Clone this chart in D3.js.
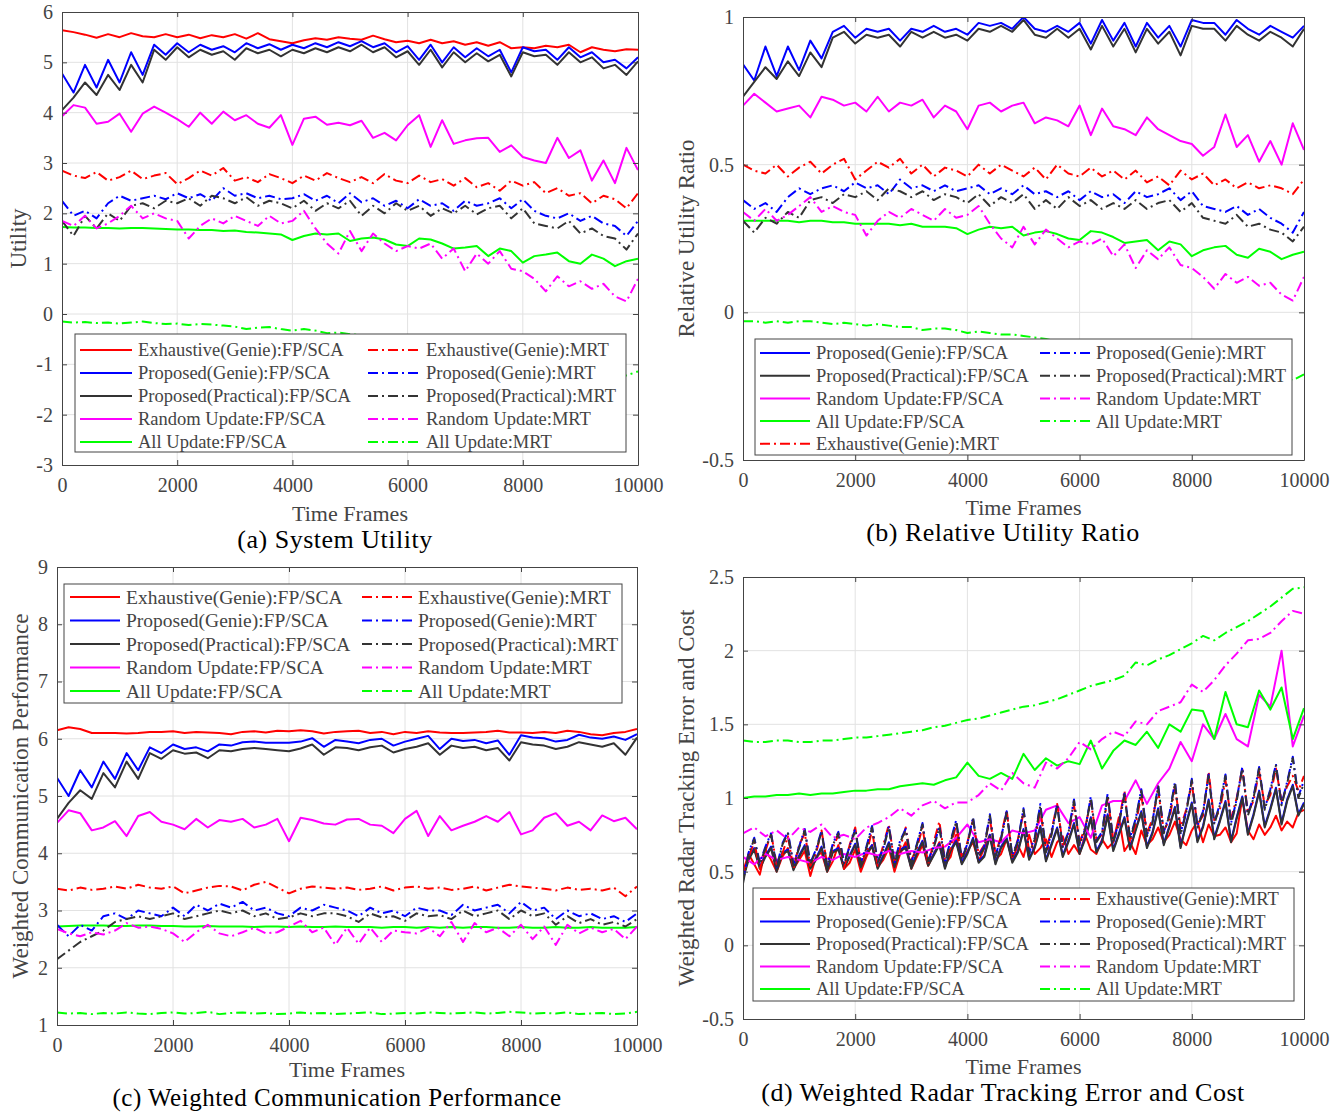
<!DOCTYPE html>
<html>
<head>
<meta charset="utf-8">
<script src="https://cdn.jsdelivr.net/npm/d3@7"></script>
<style>
  body { margin: 0; background: #fff; }
  svg text { font-family: "Liberation Serif", "Times New Roman", serif; }
</style>
</head>
<body>
<svg id="chart" width="1343" height="1112"></svg>
<script>
// ---- shared ticks / names ----
var xTicks = [0, 2000, 4000, 6000, 8000, 10000];
var yTicksA = [-3, -2, -1, 0, 1, 2, 3, 4, 5, 6];
var yTicksB = [-0.5, 0, 0.5, 1];
var yTicksC = [1, 2, 3, 4, 5, 6, 7, 8, 9];
var yTicksD = [-0.5, 0, 0.5, 1, 1.5, 2, 2.5];

var names = {
  exh: "Exhaustive(Genie)", gen: "Proposed(Genie)", pra: "Proposed(Practical)",
  rnd: "Random Update", all: "All Update"
};
var colors = { exh: "#ff0000", gen: "#0000ff", pra: "#333333", rnd: "#ff00ff", all: "#00ff00" };

// ---- (a) System Utility, one value every 200 frames ----
var utilExhFp = [5.64,5.6,5.55,5.49,5.56,5.5,5.58,5.52,5.5,5.56,5.5,5.55,5.48,5.54,5.5,5.56,5.47,5.58,5.46,5.42,5.38,5.44,5.48,5.45,5.5,5.47,5.45,5.53,5.46,5.4,5.43,5.38,5.45,5.38,5.42,5.35,5.4,5.33,5.4,5.28,5.3,5.28,5.33,5.3,5.35,5.2,5.3,5.25,5.22,5.26,5.25];
var utilGenFp = [4.78,4.4,4.95,4.5,5.05,4.6,5.2,4.75,5.35,5.15,5.38,5.2,5.35,5.25,5.32,5.2,5.38,5.28,5.36,5.25,5.35,5.28,5.38,5.3,5.4,5.32,5.42,5.3,5.38,5.2,5.32,5.05,5.35,5.0,5.3,5.1,5.28,5.12,5.25,4.8,5.3,5.22,5.25,5.05,5.3,5.1,5.2,5.0,5.05,4.88,5.1];
var utilPraFp = [4.05,4.3,4.6,4.35,4.75,4.45,4.95,4.6,5.25,5.05,5.3,5.1,5.25,5.15,5.22,5.05,5.28,5.18,5.25,5.12,5.25,5.18,5.28,5.2,5.3,5.22,5.35,5.2,5.3,5.1,5.22,4.95,5.25,4.9,5.2,5.0,5.18,5.02,5.15,4.72,5.2,5.12,5.15,4.95,5.2,5.0,5.1,4.88,4.95,4.75,5.02];
var utilRndFp = [3.93,4.15,4.1,3.78,3.82,3.98,3.62,3.98,4.12,4.0,3.87,3.72,4.0,3.78,4.02,3.85,3.95,3.78,3.7,3.95,3.36,3.88,3.92,3.76,3.8,3.75,3.84,3.5,3.6,3.45,3.75,3.95,3.32,3.85,3.38,3.45,3.49,3.5,3.22,3.35,3.12,3.05,3.0,3.5,3.1,3.25,2.65,3.05,2.6,3.3,2.86];
var utilAllFp = [1.73,1.72,1.72,1.71,1.71,1.7,1.71,1.71,1.7,1.69,1.68,1.68,1.67,1.67,1.65,1.66,1.63,1.62,1.6,1.58,1.47,1.55,1.6,1.58,1.6,1.45,1.5,1.52,1.48,1.38,1.35,1.5,1.48,1.4,1.3,1.32,1.35,1.15,1.3,1.25,1.02,1.15,1.18,1.22,1.05,1.0,1.18,1.1,0.95,1.05,1.1];
var utilExhMrt = [2.85,2.75,2.7,2.82,2.65,2.72,2.85,2.68,2.75,2.8,2.58,2.7,2.85,2.75,2.9,2.65,2.72,2.62,2.78,2.7,2.6,2.75,2.65,2.8,2.7,2.62,2.72,2.6,2.78,2.65,2.6,2.75,2.62,2.68,2.55,2.7,2.52,2.6,2.45,2.65,2.55,2.62,2.4,2.5,2.35,2.4,2.2,2.35,2.28,2.1,2.4];
var utilGenMrt = [2.25,1.95,2.05,1.9,2.2,2.35,2.25,2.3,2.35,2.28,2.4,2.3,2.38,2.25,2.5,2.35,2.4,2.3,2.35,2.28,2.3,2.38,2.25,2.35,2.2,2.4,2.22,2.3,2.15,2.25,2.1,2.28,2.15,2.2,2.05,2.25,2.15,2.2,2.3,2.1,2.28,2.05,1.95,1.9,2.0,1.85,1.95,1.8,1.75,1.55,1.85];
var utilPraMrt = [1.85,1.55,1.95,1.7,2.0,1.85,2.15,2.2,2.1,2.25,2.2,2.3,2.15,2.35,2.3,2.2,2.32,2.15,2.25,2.2,2.1,2.25,2.05,2.2,2.1,2.25,1.95,2.15,2.0,2.2,2.05,2.15,1.95,2.1,2.0,2.15,1.98,2.1,2.15,1.9,2.1,1.8,1.75,1.7,1.85,1.6,1.7,1.55,1.5,1.28,1.6];
var utilRndMrt = [1.85,1.75,1.95,1.7,1.8,1.95,2.15,1.9,2.0,1.9,1.85,1.5,1.75,1.9,1.8,1.95,1.85,1.75,1.95,1.8,1.85,2.05,1.7,1.4,1.2,1.65,1.25,1.6,1.4,1.25,1.35,1.3,1.4,1.1,1.3,0.85,1.2,1.0,1.25,0.9,0.85,0.7,0.45,0.75,0.55,0.65,0.5,0.6,0.35,0.25,0.7];
var utilAllMrt = [-0.15,-0.17,-0.16,-0.18,-0.17,-0.19,-0.17,-0.15,-0.18,-0.2,-0.19,-0.22,-0.2,-0.21,-0.23,-0.25,-0.3,-0.27,-0.26,-0.3,-0.33,-0.3,-0.33,-0.38,-0.37,-0.4,-0.42,-0.45,-0.48,-0.5,-0.53,-0.56,-0.6,-0.63,-0.66,-0.7,-0.73,-0.76,-0.79,-0.82,-0.86,-0.89,-0.92,-0.95,-0.98,-1.02,-1.05,-1.1,-1.17,-1.22,-1.14];

// ---- (b) Relative Utility Ratio ----
var ratioGenFp = [0.84,0.785,0.9,0.8,0.9,0.82,0.92,0.86,0.95,0.97,0.93,0.96,0.95,0.96,0.92,0.96,0.95,0.97,0.95,0.96,0.94,0.98,0.97,0.98,0.96,1.0,0.96,0.95,0.97,0.95,0.98,0.91,0.99,0.92,0.98,0.9,0.98,0.93,0.97,0.9,0.99,0.98,0.98,0.94,0.99,0.96,0.94,0.97,0.95,0.93,0.97];
var ratioPraFp = [0.73,0.78,0.83,0.79,0.85,0.8,0.88,0.83,0.93,0.95,0.91,0.94,0.93,0.94,0.9,0.95,0.93,0.95,0.93,0.94,0.92,0.96,0.95,0.97,0.95,0.99,0.94,0.93,0.96,0.93,0.96,0.89,0.97,0.9,0.96,0.88,0.96,0.91,0.95,0.87,0.97,0.96,0.96,0.92,0.97,0.94,0.92,0.95,0.93,0.9,0.96];
var ratioRndFp = [0.7,0.74,0.71,0.68,0.69,0.7,0.66,0.73,0.72,0.7,0.71,0.68,0.73,0.68,0.71,0.7,0.72,0.66,0.7,0.68,0.62,0.7,0.71,0.68,0.7,0.71,0.64,0.66,0.65,0.63,0.7,0.6,0.69,0.63,0.62,0.6,0.66,0.62,0.6,0.58,0.57,0.53,0.56,0.67,0.56,0.6,0.51,0.58,0.5,0.64,0.55];
var ratioAllFp = [0.31,0.31,0.31,0.31,0.31,0.305,0.31,0.31,0.305,0.305,0.3,0.3,0.3,0.3,0.295,0.3,0.29,0.29,0.29,0.285,0.265,0.28,0.29,0.285,0.29,0.26,0.27,0.275,0.265,0.25,0.245,0.275,0.27,0.255,0.235,0.24,0.245,0.21,0.24,0.23,0.19,0.21,0.22,0.225,0.195,0.185,0.215,0.205,0.18,0.195,0.205];
var ratioExhMrt = [0.5,0.48,0.47,0.5,0.46,0.49,0.51,0.47,0.5,0.52,0.45,0.48,0.51,0.49,0.52,0.47,0.5,0.46,0.49,0.48,0.46,0.5,0.47,0.5,0.48,0.46,0.49,0.45,0.5,0.47,0.46,0.49,0.46,0.48,0.45,0.48,0.44,0.46,0.43,0.48,0.45,0.47,0.43,0.45,0.42,0.44,0.42,0.43,0.42,0.4,0.45];
var ratioGenMrt = [0.38,0.35,0.37,0.34,0.39,0.42,0.4,0.42,0.43,0.41,0.44,0.42,0.43,0.4,0.45,0.42,0.43,0.41,0.43,0.41,0.42,0.43,0.4,0.42,0.4,0.43,0.4,0.41,0.39,0.41,0.38,0.41,0.39,0.4,0.37,0.41,0.39,0.4,0.42,0.38,0.41,0.36,0.35,0.34,0.36,0.33,0.35,0.32,0.3,0.27,0.34];
var ratioPraMrt = [0.31,0.27,0.32,0.3,0.34,0.32,0.38,0.39,0.37,0.4,0.39,0.41,0.38,0.42,0.41,0.39,0.41,0.38,0.4,0.39,0.37,0.4,0.36,0.39,0.37,0.4,0.35,0.38,0.35,0.39,0.36,0.38,0.35,0.37,0.35,0.38,0.35,0.37,0.38,0.34,0.37,0.32,0.31,0.3,0.33,0.29,0.3,0.28,0.27,0.24,0.29];
var ratioRndMrt = [0.34,0.31,0.35,0.31,0.33,0.36,0.39,0.34,0.36,0.34,0.33,0.26,0.31,0.34,0.32,0.35,0.33,0.31,0.35,0.32,0.33,0.36,0.3,0.25,0.22,0.29,0.23,0.28,0.25,0.22,0.24,0.23,0.25,0.19,0.23,0.15,0.21,0.18,0.22,0.16,0.15,0.12,0.08,0.13,0.1,0.12,0.09,0.1,0.06,0.04,0.12];
var ratioAllMrt = [-0.03,-0.03,-0.035,-0.03,-0.035,-0.03,-0.03,-0.035,-0.04,-0.035,-0.04,-0.045,-0.04,-0.045,-0.05,-0.05,-0.06,-0.055,-0.055,-0.06,-0.07,-0.065,-0.07,-0.075,-0.075,-0.08,-0.085,-0.09,-0.1,-0.105,-0.11,-0.115,-0.12,-0.125,-0.13,-0.135,-0.14,-0.145,-0.15,-0.155,-0.16,-0.165,-0.17,-0.175,-0.18,-0.19,-0.195,-0.205,-0.215,-0.23,-0.21];

// ---- (c) Weighted Communication Performance ----
var commExhFp = [6.15,6.2,6.17,6.1,6.1,6.1,6.09,6.1,6.12,6.12,6.13,6.1,6.12,6.11,6.1,6.08,6.12,6.13,6.11,6.14,6.13,6.15,6.13,6.09,6.12,6.13,6.14,6.1,6.12,6.08,6.12,6.1,6.13,6.11,6.1,6.1,6.11,6.12,6.14,6.11,6.11,6.1,6.12,6.1,6.14,6.12,6.08,6.06,6.1,6.12,6.17];
var commGenFp = [5.32,5.0,5.45,5.15,5.6,5.3,5.75,5.45,5.85,5.75,5.9,5.82,5.85,5.78,5.9,5.88,5.94,5.95,5.93,5.93,5.93,5.95,6.01,5.86,5.98,5.95,5.92,5.98,6.0,5.88,5.95,6.0,6.05,5.82,6.0,5.96,5.98,5.92,5.97,5.72,6.06,6.02,6.01,5.95,5.98,6.07,6.02,6.0,6.04,5.98,6.08];
var commPraFp = [4.6,4.88,5.1,4.95,5.4,5.15,5.6,5.3,5.75,5.65,5.8,5.74,5.76,5.66,5.8,5.78,5.82,5.84,5.82,5.8,5.78,5.83,5.9,5.72,5.85,5.84,5.8,5.85,5.88,5.76,5.82,5.86,5.92,5.72,5.88,5.84,5.86,5.8,5.84,5.62,5.94,5.9,5.88,5.82,5.86,5.94,5.9,5.86,5.92,5.72,6.02];
var commRndFp = [4.53,4.75,4.7,4.4,4.45,4.56,4.3,4.65,4.72,4.55,4.5,4.42,4.6,4.45,4.58,4.55,4.6,4.45,4.5,4.6,4.21,4.62,4.58,4.52,4.5,4.59,4.6,4.5,4.48,4.35,4.6,4.74,4.3,4.65,4.4,4.48,4.55,4.65,4.55,4.72,4.33,4.4,4.62,4.7,4.48,4.55,4.4,4.66,4.56,4.62,4.42];
var commAllFp = [2.72,2.73,2.74,2.74,2.74,2.73,2.73,2.74,2.74,2.73,2.73,2.72,2.72,2.73,2.72,2.72,2.72,2.71,2.72,2.72,2.71,2.72,2.71,2.71,2.72,2.71,2.71,2.71,2.7,2.71,2.71,2.7,2.71,2.7,2.71,2.7,2.71,2.71,2.7,2.7,2.71,2.7,2.7,2.71,2.7,2.7,2.71,2.7,2.7,2.7,2.71];
var commExhMrt = [3.38,3.35,3.4,3.36,3.38,3.42,3.38,3.45,3.4,3.38,3.42,3.3,3.35,3.4,3.43,3.42,3.35,3.45,3.5,3.4,3.3,3.38,3.42,3.4,3.38,3.4,3.36,3.38,3.42,3.35,3.4,3.42,3.38,3.4,3.36,3.38,3.42,3.35,3.4,3.45,3.42,3.4,3.38,3.35,3.4,3.36,3.38,3.35,3.4,3.25,3.42];
var commGenMrt = [2.75,2.55,2.75,2.65,2.9,2.95,2.85,3.0,2.95,2.9,3.05,2.9,3.1,3.0,3.12,3.05,3.15,3.0,3.05,2.95,2.9,3.05,3.0,3.1,3.05,3.0,2.9,3.05,2.95,3.0,2.9,3.05,3.0,3.0,2.92,3.1,3.0,3.05,3.1,2.95,3.15,3.0,3.05,2.85,3.0,2.9,2.95,2.85,2.9,2.8,2.95];
var commPraMrt = [2.15,2.3,2.45,2.55,2.65,2.8,2.85,2.9,2.85,2.9,2.95,2.85,2.9,2.95,3.0,2.95,3.0,2.9,2.95,2.85,2.88,2.95,2.9,2.95,2.95,2.9,2.8,2.95,2.88,2.9,2.82,2.95,2.9,2.92,2.85,3.0,2.9,2.95,3.0,2.85,3.0,2.9,2.95,2.75,2.9,2.78,2.85,2.75,2.8,2.72,2.85];
var commRndMrt = [2.68,2.6,2.55,2.62,2.58,2.65,2.78,2.7,2.72,2.68,2.6,2.45,2.62,2.75,2.6,2.55,2.62,2.7,2.6,2.62,2.72,2.82,2.62,2.7,2.4,2.7,2.42,2.7,2.45,2.65,2.62,2.6,2.7,2.55,2.8,2.45,2.78,2.62,2.7,2.55,2.75,2.5,2.72,2.4,2.75,2.6,2.7,2.62,2.68,2.5,2.72];
var commAllMrt = [1.22,1.2,1.21,1.19,1.21,1.2,1.22,1.2,1.19,1.21,1.22,1.2,1.21,1.23,1.19,1.21,1.22,1.2,1.21,1.19,1.2,1.22,1.2,1.21,1.19,1.2,1.21,1.22,1.19,1.2,1.21,1.2,1.22,1.21,1.2,1.21,1.22,1.2,1.21,1.23,1.22,1.2,1.21,1.2,1.22,1.19,1.2,1.21,1.19,1.2,1.23];

// ---- (d) Weighted Radar Tracking Error and Cost ----
// oscillating series: one value every 100 frames
var radarExhFp = [0.5,0.62,0.55,0.48,0.65,0.58,0.5,0.6,0.66,0.52,0.58,0.64,0.47,0.6,0.63,0.5,0.57,0.68,0.52,0.56,0.65,0.5,0.6,0.68,0.53,0.58,0.66,0.5,0.62,0.7,0.52,0.6,0.68,0.54,0.62,0.7,0.55,0.6,0.75,0.56,0.64,0.7,0.57,0.66,0.75,0.58,0.62,0.72,0.58,0.68,0.6,0.75,0.62,0.66,0.72,0.6,0.7,0.74,0.62,0.68,0.62,0.75,0.65,0.62,0.72,0.66,0.7,0.87,0.64,0.7,0.62,0.78,0.68,0.72,0.8,0.7,0.75,0.84,0.72,0.68,0.78,0.84,0.7,0.82,0.74,0.75,0.8,0.7,0.76,1.0,0.78,0.72,0.82,0.75,0.8,0.88,0.78,0.84,0.8,0.9,0.92];
var radarGenFp = [0.47,0.6,0.66,0.53,0.61,0.67,0.51,0.63,0.65,0.52,0.61,0.68,0.53,0.59,0.67,0.51,0.64,0.66,0.53,0.61,0.69,0.54,0.63,0.68,0.53,0.61,0.7,0.54,0.65,0.67,0.53,0.63,0.71,0.55,0.62,0.69,0.53,0.65,0.71,0.56,0.63,0.73,0.57,0.61,0.75,0.56,0.67,0.73,0.57,0.64,0.79,0.59,0.67,0.81,0.58,0.69,0.8,0.61,0.71,0.83,0.63,0.73,0.87,0.64,0.71,0.89,0.65,0.76,0.87,0.66,0.79,0.91,0.67,0.77,0.93,0.69,0.81,0.94,0.67,0.83,0.97,0.71,0.81,0.99,0.73,0.85,0.98,0.71,0.87,1.01,0.76,0.89,1.05,0.81,0.93,1.07,0.83,0.99,1.09,0.89,0.97];
var radarPraFp = [0.45,0.58,0.65,0.52,0.6,0.66,0.5,0.62,0.64,0.51,0.6,0.67,0.52,0.58,0.66,0.5,0.63,0.65,0.52,0.6,0.68,0.53,0.62,0.67,0.52,0.6,0.69,0.53,0.64,0.66,0.52,0.62,0.7,0.54,0.61,0.68,0.52,0.64,0.7,0.55,0.62,0.72,0.56,0.6,0.74,0.55,0.66,0.72,0.56,0.63,0.78,0.58,0.66,0.8,0.57,0.68,0.79,0.6,0.7,0.82,0.62,0.72,0.86,0.63,0.7,0.88,0.64,0.75,0.86,0.65,0.78,0.9,0.66,0.76,0.92,0.68,0.8,0.93,0.66,0.82,0.96,0.7,0.8,0.98,0.72,0.84,0.97,0.7,0.86,1.0,0.75,0.88,1.04,0.8,0.92,1.06,0.82,0.98,1.08,0.88,0.96];
var radarExhMrt = [0.48,0.6,0.7,0.52,0.64,0.76,0.55,0.62,0.74,0.52,0.68,0.76,0.54,0.62,0.78,0.55,0.66,0.75,0.52,0.68,0.8,0.56,0.62,0.78,0.54,0.68,0.82,0.56,0.66,0.8,0.58,0.66,0.8,0.55,0.7,0.84,0.58,0.66,0.82,0.6,0.7,0.85,0.62,0.68,0.86,0.62,0.74,0.92,0.6,0.72,0.9,0.64,0.7,0.92,0.65,0.78,0.96,0.68,0.74,0.95,0.7,0.8,0.98,0.72,0.75,1.0,0.72,0.84,1.05,0.7,0.82,1.02,0.76,0.86,1.05,0.78,0.85,1.08,0.8,0.92,1.1,0.82,0.88,1.18,0.85,0.92,1.12,0.86,1.0,1.2,0.9,0.98,1.18,0.95,1.02,1.2,0.98,1.08,1.15,1.05,1.15];
var radarGenMrt = [0.44,0.63,0.73,0.56,0.67,0.76,0.53,0.69,0.77,0.55,0.67,0.79,0.56,0.65,0.78,0.54,0.69,0.77,0.56,0.67,0.79,0.56,0.67,0.81,0.57,0.66,0.81,0.56,0.71,0.79,0.56,0.69,0.83,0.58,0.67,0.81,0.57,0.71,0.85,0.59,0.69,0.87,0.61,0.67,0.89,0.61,0.73,0.91,0.61,0.71,0.93,0.63,0.73,0.96,0.64,0.76,0.96,0.67,0.77,0.99,0.69,0.79,1.01,0.71,0.77,1.03,0.71,0.83,1.03,0.73,0.86,1.06,0.75,0.84,1.09,0.77,0.89,1.11,0.76,0.91,1.13,0.81,0.91,1.16,0.83,0.96,1.16,0.83,0.99,1.21,0.89,1.01,1.21,0.93,1.06,1.23,0.96,1.11,1.28,1.01,1.12];
var radarPraMrt = [0.42,0.62,0.72,0.55,0.66,0.75,0.52,0.68,0.76,0.54,0.66,0.78,0.55,0.64,0.77,0.53,0.68,0.76,0.55,0.66,0.78,0.55,0.66,0.8,0.56,0.65,0.8,0.55,0.7,0.78,0.55,0.68,0.82,0.57,0.66,0.8,0.56,0.7,0.84,0.58,0.68,0.86,0.6,0.66,0.88,0.6,0.72,0.9,0.6,0.7,0.92,0.62,0.72,0.95,0.63,0.75,0.95,0.66,0.76,0.98,0.68,0.78,1.0,0.7,0.76,1.02,0.7,0.82,1.02,0.72,0.85,1.05,0.74,0.83,1.08,0.76,0.88,1.1,0.75,0.9,1.12,0.8,0.9,1.15,0.82,0.95,1.15,0.82,0.98,1.2,0.88,1.0,1.2,0.92,1.05,1.22,0.95,1.1,1.27,1.0,1.1];
// smoother series: one value every 200 frames
var radarRndFp = [0.6,0.55,0.62,0.58,0.6,0.58,0.56,0.6,0.58,0.62,0.6,0.63,0.61,0.64,0.62,0.64,0.63,0.66,0.67,0.73,0.82,0.7,0.72,0.7,0.78,0.76,0.78,0.92,0.95,0.83,0.87,0.73,0.95,0.98,0.98,1.12,0.96,1.1,1.2,1.38,1.25,1.5,1.4,1.57,1.4,1.35,1.7,1.62,2.0,1.35,1.56];
var radarAllFp = [1.0,1.01,1.01,1.02,1.02,1.03,1.02,1.03,1.03,1.04,1.05,1.05,1.06,1.06,1.08,1.09,1.1,1.09,1.12,1.14,1.24,1.15,1.13,1.17,1.13,1.3,1.19,1.27,1.22,1.25,1.23,1.39,1.2,1.32,1.39,1.36,1.45,1.34,1.5,1.45,1.6,1.59,1.4,1.72,1.5,1.48,1.73,1.6,1.75,1.4,1.61];
var radarRndMrt = [0.76,0.8,0.74,0.78,0.72,0.8,0.77,0.82,0.73,0.75,0.72,0.8,0.83,0.87,0.93,0.88,0.95,0.98,0.93,0.97,0.97,1.02,1.1,1.05,1.17,1.1,1.07,1.24,1.2,1.27,1.38,1.33,1.4,1.45,1.42,1.52,1.5,1.59,1.62,1.65,1.77,1.72,1.8,1.9,1.98,2.07,2.08,2.12,2.2,2.27,2.25];
var radarAllMrt = [1.39,1.38,1.38,1.39,1.39,1.38,1.38,1.39,1.39,1.4,1.41,1.41,1.42,1.43,1.44,1.45,1.46,1.48,1.49,1.51,1.53,1.54,1.56,1.58,1.6,1.62,1.63,1.65,1.67,1.7,1.73,1.76,1.78,1.8,1.83,1.92,1.9,1.94,1.97,2.01,2.05,2.1,2.07,2.12,2.16,2.2,2.25,2.3,2.36,2.42,2.43];

var svg = d3.select("#chart");
var dashDot = "10,4,2,4";
var clipId = 0;

function drawPanel(p) {
  var x = d3.scaleLinear().domain([0, 10000]).range([p.left, p.right]);
  var y = d3.scaleLinear().domain(p.yDomain).range([p.bottom, p.top]);
  var g = svg.append("g");
  var w = p.right - p.left, h = p.bottom - p.top;

  // white plot background + grid
  g.append("rect").attr("x", p.left).attr("y", p.top).attr("width", w).attr("height", h).attr("fill", "#fff");
  g.selectAll(".gx").data(xTicks.slice(1, -1)).enter().append("line")
    .attr("x1", d => x(d)).attr("x2", d => x(d)).attr("y1", p.top).attr("y2", p.bottom)
    .attr("stroke", "#e2e2e2").attr("stroke-width", 1);
  g.selectAll(".gy").data(p.yTicks.slice(1, -1)).enter().append("line")
    .attr("y1", d => y(d)).attr("y2", d => y(d)).attr("x1", p.left).attr("x2", p.right)
    .attr("stroke", "#e2e2e2").attr("stroke-width", 1);

  // series
  var cid = "clip" + (clipId++);
  svg.append("clipPath").attr("id", cid).append("rect")
    .attr("x", p.left).attr("y", p.top).attr("width", w).attr("height", h);
  var lines = g.append("g").attr("clip-path", "url(#" + cid + ")");
  p.series.forEach(function(s) {
    var n = s.data.length;
    var line = d3.line()
      .x(function(d, i) { return x(i * 10000 / (n - 1)); })
      .y(function(d) { return y(d); });
    lines.append("path")
      .attr("d", line(s.data))
      .attr("fill", "none")
      .attr("stroke", colors[s.key])
      .attr("stroke-width", 2)
      .attr("stroke-linejoin", "round")
      .attr("stroke-dasharray", s.mrt ? dashDot : null);
  });

  // axes, MATLAB style (ticks inside, box on)
  var fmt = d => String(d);
  var axisStyle = function(sel) {
    sel.selectAll("path").attr("stroke", "#444");
    sel.selectAll("line").attr("stroke", "#444");
    sel.selectAll("text").attr("fill", "#444").style("font-size", "20px")
      .style("font-family", "'Liberation Serif', serif");
  };
  g.append("g").attr("transform", "translate(0," + p.bottom + ")")
    .call(d3.axisBottom(x).tickValues(xTicks).tickFormat(fmt).tickSizeInner(-5).tickSizeOuter(0).tickPadding(13))
    .call(axisStyle);
  g.append("g").attr("transform", "translate(0," + p.top + ")")
    .call(d3.axisTop(x).tickValues(xTicks).tickFormat("").tickSizeInner(-5).tickSizeOuter(0))
    .call(axisStyle);
  g.append("g").attr("transform", "translate(" + p.left + ",0)")
    .call(d3.axisLeft(y).tickValues(p.yTicks).tickFormat(fmt).tickSizeInner(-5).tickSizeOuter(0).tickPadding(9))
    .call(axisStyle);
  g.append("g").attr("transform", "translate(" + p.right + ",0)")
    .call(d3.axisRight(y).tickValues(p.yTicks).tickFormat("").tickSizeInner(-5).tickSizeOuter(0))
    .call(axisStyle);

  // labels
  g.append("text")
    .attr("x", (p.left + p.right) / 2).attr("y", p.xLabelY)
    .attr("text-anchor", "middle").attr("fill", "#444").style("font-size", "22px")
    .text("Time Frames");
  g.append("text")
    .attr("transform", "translate(" + p.yLabelX + "," + ((p.top + p.bottom) / 2) + ") rotate(-90)")
    .attr("text-anchor", "middle").attr("dy", "0.35em").attr("fill", "#444").style("font-size", "23px")
    .text(p.yLabel);
  g.append("text")
    .attr("x", p.captionX).attr("y", p.captionY)
    .attr("text-anchor", "middle").attr("fill", "#000").style("font-size", p.captionSize || "26px")
    .style("letter-spacing", "0.5px")
    .text(p.caption);

  // legend
  var L = p.legend;
  var lg = g.append("g");
  lg.append("rect").attr("x", L.x).attr("y", L.y).attr("width", L.w).attr("height", L.h)
    .attr("fill", "#fff").attr("stroke", "#444").attr("stroke-width", 1);
  L.items.forEach(function(it) {
    var cx = L.cols[it.col], cy = L.y + L.rowTop + it.row * L.rowGap;
    lg.append("line")
      .attr("x1", cx).attr("x2", cx + L.sample).attr("y1", cy).attr("y2", cy)
      .attr("stroke", colors[it.key]).attr("stroke-width", 2)
      .attr("stroke-dasharray", it.mrt ? dashDot : null);
    lg.append("text")
      .attr("x", cx + L.sample + 6).attr("y", cy).attr("dy", "0.35em")
      .attr("fill", "#444").style("font-size", L.font)
      .text(names[it.key] + (it.mrt ? ":MRT" : ":FP/SCA"));
  });
}

function stdItems() {
  var keys = ["exh", "gen", "pra", "rnd", "all"];
  var items = [];
  keys.forEach(function(k, i) {
    items.push({ key: k, mrt: false, col: 0, row: i });
    items.push({ key: k, mrt: true, col: 1, row: i });
  });
  return items;
}

// (a)
drawPanel({
  left: 62, right: 638, top: 12, bottom: 465, yDomain: [-3, 6], yTicks: yTicksA,
  yLabel: "Utility", yLabelX: 18, xLabelY: 521, caption: "(a) System Utility", captionX: 335, captionY: 548,
  series: [
    { key: "exh", data: utilExhFp }, { key: "gen", data: utilGenFp }, { key: "pra", data: utilPraFp },
    { key: "rnd", data: utilRndFp }, { key: "all", data: utilAllFp },
    { key: "exh", data: utilExhMrt, mrt: true }, { key: "gen", data: utilGenMrt, mrt: true },
    { key: "pra", data: utilPraMrt, mrt: true }, { key: "rnd", data: utilRndMrt, mrt: true },
    { key: "all", data: utilAllMrt, mrt: true }
  ],
  legend: { x: 75, y: 334, w: 551, h: 118, rowTop: 16, rowGap: 23, cols: [80, 368], sample: 52, font: "18.5px", items: stdItems() }
});

// (b)
drawPanel({
  left: 743, right: 1304, top: 17, bottom: 460, yDomain: [-0.5, 1], yTicks: yTicksB,
  yLabel: "Relative Utility Ratio", yLabelX: 686, xLabelY: 515, caption: "(b) Relative Utility Ratio", captionX: 1003, captionY: 541,
  series: [
    { key: "gen", data: ratioGenFp }, { key: "pra", data: ratioPraFp },
    { key: "rnd", data: ratioRndFp }, { key: "all", data: ratioAllFp },
    { key: "exh", data: ratioExhMrt, mrt: true }, { key: "gen", data: ratioGenMrt, mrt: true },
    { key: "pra", data: ratioPraMrt, mrt: true }, { key: "rnd", data: ratioRndMrt, mrt: true },
    { key: "all", data: ratioAllMrt, mrt: true }
  ],
  legend: { x: 755, y: 339, w: 537, h: 116, rowTop: 14, rowGap: 22.7, cols: [760, 1040], sample: 50, font: "18.5px",
    items: [
      { key: "gen", col: 0, row: 0 }, { key: "gen", mrt: true, col: 1, row: 0 },
      { key: "pra", col: 0, row: 1 }, { key: "pra", mrt: true, col: 1, row: 1 },
      { key: "rnd", col: 0, row: 2 }, { key: "rnd", mrt: true, col: 1, row: 2 },
      { key: "all", col: 0, row: 3 }, { key: "all", mrt: true, col: 1, row: 3 },
      { key: "exh", mrt: true, col: 0, row: 4 }
    ] }
});

// (c)
drawPanel({
  left: 57, right: 637, top: 567, bottom: 1025, yDomain: [1, 9], yTicks: yTicksC,
  yLabel: "Weighted Communication Performance", yLabelX: 20, xLabelY: 1077, caption: "(c) Weighted Communication Performance", captionX: 337, captionY: 1106, captionSize: "25px",
  series: [
    { key: "exh", data: commExhFp }, { key: "gen", data: commGenFp }, { key: "pra", data: commPraFp },
    { key: "rnd", data: commRndFp }, { key: "all", data: commAllFp },
    { key: "exh", data: commExhMrt, mrt: true }, { key: "gen", data: commGenMrt, mrt: true },
    { key: "pra", data: commPraMrt, mrt: true }, { key: "rnd", data: commRndMrt, mrt: true },
    { key: "all", data: commAllMrt, mrt: true }
  ],
  legend: { x: 64, y: 584, w: 558, h: 119, rowTop: 13, rowGap: 23.5, cols: [70, 362], sample: 50, font: "19.5px", items: stdItems() }
});

// (d)
drawPanel({
  left: 743, right: 1304, top: 577, bottom: 1019, yDomain: [-0.5, 2.5], yTicks: yTicksD,
  yLabel: "Weighted Radar Tracking Error and Cost", yLabelX: 686, xLabelY: 1074, caption: "(d) Weighted Radar Tracking Error and Cost", captionX: 1003, captionY: 1101,
  series: [
    { key: "exh", data: radarExhFp }, { key: "gen", data: radarGenFp }, { key: "pra", data: radarPraFp },
    { key: "rnd", data: radarRndFp }, { key: "all", data: radarAllFp },
    { key: "exh", data: radarExhMrt, mrt: true }, { key: "gen", data: radarGenMrt, mrt: true },
    { key: "pra", data: radarPraMrt, mrt: true }, { key: "rnd", data: radarRndMrt, mrt: true },
    { key: "all", data: radarAllMrt, mrt: true }
  ],
  legend: { x: 753, y: 888, w: 541, h: 113, rowTop: 11, rowGap: 22.5, cols: [760, 1040], sample: 50, font: "18.5px", items: stdItems() }
});
</script>
</body>
</html>
